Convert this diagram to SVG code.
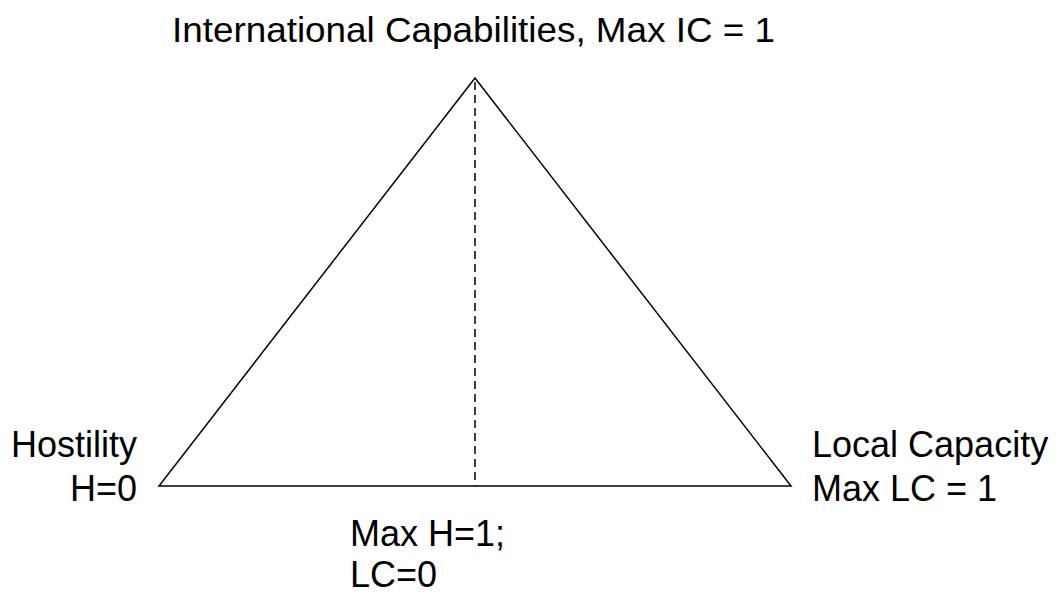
<svg xmlns="http://www.w3.org/2000/svg" width="1059" height="595" viewBox="0 0 1059 595">
<style>
text{font-family:"Liberation Sans",Arial,sans-serif;font-size:36px;fill:#000}
.edge{stroke:#000;stroke-width:1.5;fill:none}
.dash{stroke:#000;stroke-width:1.5;stroke-dasharray:8,5;fill:none}
</style>
<rect width="1059" height="595" fill="#fff"/>
<g id="connectors">
<polygon class="edge" points="475,78 159,486 791,486"/>
<line class="dash" x1="475" y1="82" x2="475" y2="486"/>
</g>
<g id="top"><text x="172" y="42" style="font-size:35px" textLength="603" lengthAdjust="spacingAndGlyphs">International Capabilities, Max IC = 1</text></g>
<g id="left"><text x="137" y="457" text-anchor="end">Hostility</text><text x="137" y="501" text-anchor="end">H=0</text></g>
<g id="right"><text x="812" y="457">Local Capacity</text><text x="812" y="501">Max LC = 1</text></g>
<g id="bottom"><text x="350" y="546">Max H=1;</text><text x="350" y="587">LC=0</text></g>
</svg>
